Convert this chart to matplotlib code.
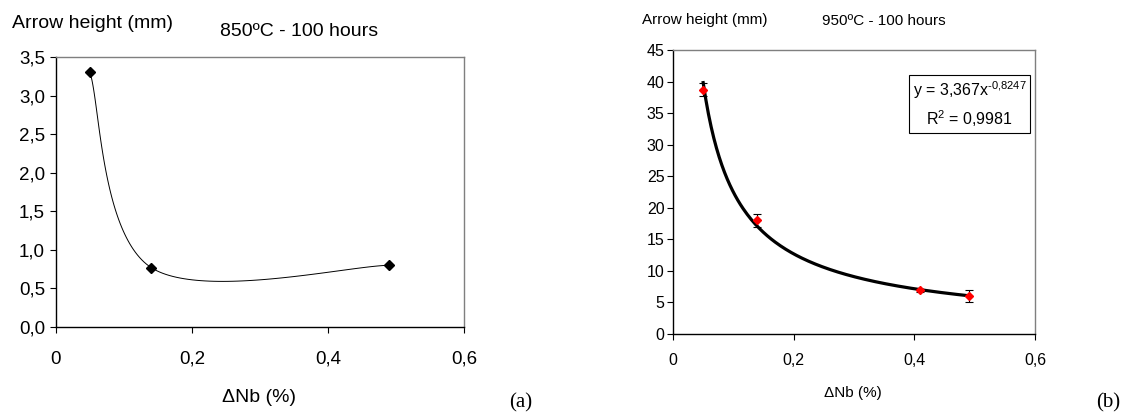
"""
Arrow height vs Nb loss, two panels (850 and 950 C, 100 h)
"""
import numpy as np
import matplotlib
matplotlib.use('Agg')
import matplotlib.pyplot as plt

###############################################################################
# data:

# (a) 850 C - 100 hours
dnb_a = [0.05, 0.14, 0.49]
h_a = [3.3, 0.77, 0.80]

# (b) 950 C - 100 hours
dnb_b = [0.05, 0.14, 0.41, 0.49]
h_b = [38.7, 18.0, 6.9, 6.0]
err_b = [1.0, 1.0, 0.3, 0.9]

# power fit reported for (b)
fit_a = 3.367
fit_b = -0.8247
fit_r2 = 0.9981

###############################################################################
# helpers:

W, H = 1127, 413


def fx(x):
    return x / W


def fy(y):
    return 1 - y / H


def smooth_line(xs, ys, n=60):
    # excel-like smoothed line: bezier segments, catmull-rom control points
    p = np.column_stack([xs, ys]).astype(float)
    p = np.vstack([p[0], p, p[-1]])
    out = []
    t = np.linspace(0, 1, n)[:, None]
    for i in range(1, len(p) - 2):
        p0, p1, p2, p3 = p[i - 1], p[i], p[i + 1], p[i + 2]
        c1 = p1 + (p2 - p0) / 6.0
        c2 = p2 - (p3 - p1) / 6.0
        seg = ((1 - t) ** 3) * p1 + 3 * ((1 - t) ** 2) * t * c1 \
            + 3 * (1 - t) * t ** 2 * c2 + t ** 3 * p2
        out.append(seg)
    out = np.vstack(out)
    return out[:, 0], out[:, 1]


def style_axes(ax, fs, ypad, xpad):
    for s in ['left', 'bottom']:
        ax.spines[s].set_color('black')
        ax.spines[s].set_linewidth(1.0)
    for s in ['top', 'right']:
        ax.spines[s].set_color('#7f7f7f')
        ax.spines[s].set_linewidth(1.0)
    ax.tick_params(direction='out', length=4.5, width=0.8, labelsize=fs,
                   top=False, right=False)
    ax.tick_params(axis='y', pad=ypad)
    ax.tick_params(axis='x', pad=xpad)


def comma(v, dec):
    return ('%.*f' % (dec, v)).replace('.', ',')

###############################################################################
# figure:

plt.rcParams['font.family'] = ['Liberation Sans', 'DejaVu Sans']
plt.rcParams['mathtext.fontset'] = 'custom'
plt.rcParams['mathtext.rm'] = 'Liberation Sans'
plt.rcParams['mathtext.it'] = 'Liberation Sans:italic'

fig = plt.figure(figsize=(W / 100.0, H / 100.0), dpi=100)

# ---------------- panel (a)
ax1 = fig.add_axes([fx(56), fy(327), fx(464 - 56), (327 - 57) / H])
sx, sy = smooth_line(dnb_a, h_a)
ax1.plot(sx, sy, color='black', lw=0.7)
ax1.plot(dnb_a, h_a, 'D', color='black', ms=5.5)
ax1.set_xlim(0, 0.6)
ax1.set_ylim(0, 3.5)
ax1.set_xticks([0, 0.2, 0.4, 0.6])
ax1.set_xticklabels(['0', '0,2', '0,4', '0,6'])
yt = np.arange(0, 3.51, 0.5)
ax1.set_yticks(yt)
ax1.set_yticklabels([comma(v, 1) for v in yt])
style_axes(ax1, 13.5, 3.5, 12.5)

fig.text(fx(12), fy(23), 'Arrow height (mm)', fontsize=14, va='center', ha='left')
fig.text(fx(220), fy(31), '850ºC - 100 hours', fontsize=14, va='center', ha='left')
fig.text(fx(259), fy(397), 'ΔNb (%)', fontsize=14, va='center', ha='center')
fig.text(fx(521), fy(403), '(a)', fontsize=15, va='center', ha='center',
         family='Liberation Serif')

# ---------------- panel (b)
ax2 = fig.add_axes([fx(673), fy(334), fx(1035 - 673), (334 - 50) / H])
xf = np.linspace(min(dnb_b), max(dnb_b), 200)
ax2.plot(xf, fit_a * xf ** fit_b, color='black', lw=2.3, zorder=2)
ax2.errorbar(dnb_b, h_b, yerr=err_b, fmt='none', ecolor='black',
             elinewidth=0.8, capsize=3, capthick=0.8, zorder=3)
ax2.plot(dnb_b, h_b, 'D', color='red', ms=4.5, zorder=4)
ax2.set_xlim(0, 0.6)
ax2.set_ylim(0, 45)
ax2.set_xticks([0, 0.2, 0.4, 0.6])
ax2.set_xticklabels(['0', '0,2', '0,4', '0,6'])
ax2.set_yticks(np.arange(0, 46, 5))
style_axes(ax2, 11.5, 1.5, 9.5)

eq = 'y = %sx$^{\\text{%s}}$\nR$^{2}$ = %s' % (comma(fit_a, 3), comma(fit_b, 4), comma(fit_r2, 4))
ax2.text(0.819, 0.808, eq, transform=ax2.transAxes, fontsize=11.5, ha='center',
         va='center', linespacing=1.45,
         bbox=dict(boxstyle='square,pad=0.2', fc='white', ec='black', lw=0.8))

fig.text(fx(642), fy(20), 'Arrow height (mm)', fontsize=11, va='center', ha='left')
fig.text(fx(822), fy(21), '950ºC - 100 hours', fontsize=11, va='center', ha='left')
fig.text(fx(853), fy(393), 'ΔNb (%)', fontsize=11, va='center', ha='center')
fig.text(fx(1108), fy(403), '(b)', fontsize=15, va='center', ha='center',
         family='Liberation Serif')

fig.savefig('out.png', dpi=100)
